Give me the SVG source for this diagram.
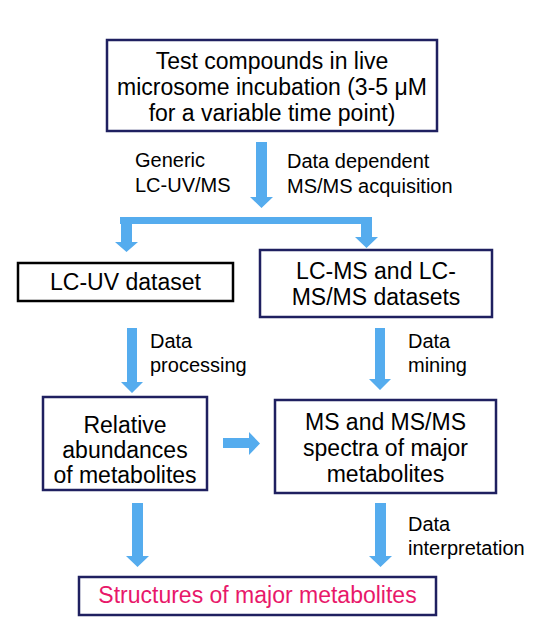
<svg xmlns="http://www.w3.org/2000/svg" width="553" height="631" viewBox="0 0 553 631">
<style>
.box{fill:#fff;stroke:#1f2060;stroke-width:2.5}
.bbox{fill:#fff;stroke:#000;stroke-width:2.5}
.t{font-family:"Liberation Sans",Arial,sans-serif;font-size:23px;fill:#000;text-anchor:middle}
.lb{font-family:"Liberation Sans",Arial,sans-serif;font-size:20px;fill:#000}
.arr{fill:#55acee}
</style>
<rect width="553" height="631" fill="#fff"/>
<g id="connectors">
<polygon class="arr" points="256,142 267,142 267,197 273,197 261.5,208 250,197 256,197"/>
<polygon class="arr" points="120,217 372,217 372,237 378,237 366.5,248 355,237 361,237 361,224 132,224 132,242 138,242 126.5,252 115,242 121,242 121,224 120,224"/>
<polygon class="arr" points="127,328 137,328 137,382 143,382 132,393 121,382 127,382"/>
<polygon class="arr" points="375,328 385,328 385,379 391,379 380,390 369,379 375,379"/>
<polygon class="arr" points="223,438 249,438 249,432 260,443.5 249,455 249,448 223,448"/>
<polygon class="arr" points="132,503 143,503 143,556 149,556 137.5,567 126,556 132,556"/>
<polygon class="arr" points="375,503 386,503 386,556 392,556 380.5,567 369,556 375,556"/>
<text class="lb" x="135" y="167">Generic</text>
<text class="lb" x="135" y="192">LC-UV/MS</text>
<text class="lb" x="287" y="168">Data dependent</text>
<text class="lb" x="287" y="193">MS/MS acquisition</text>
<text class="lb" x="150" y="348">Data</text>
<text class="lb" x="150" y="372">processing</text>
<text class="lb" x="408" y="348">Data</text>
<text class="lb" x="408" y="372">mining</text>
<text class="lb" x="408" y="531">Data</text>
<text class="lb" x="408" y="555">interpretation</text>
</g>
<g id="node-test">
<rect class="box" x="107" y="40" width="330" height="91"/>
<text class="t" x="272" y="69">Test compounds in live</text>
<text class="t" x="272" y="95">microsome incubation (3-5 μM</text>
<text class="t" x="272" y="121">for a variable time point)</text>
</g>
<g id="node-lcuv">
<rect class="bbox" x="18" y="263" width="215" height="38"/>
<text class="t" x="125.5" y="290">LC-UV dataset</text>
</g>
<g id="node-lcms">
<rect class="box" x="260" y="250" width="232" height="67"/>
<text class="t" x="376" y="279">LC-MS and LC-</text>
<text class="t" x="376" y="305">MS/MS datasets</text>
</g>
<g id="node-relative">
<rect class="box" x="43" y="397" width="164" height="93"/>
<text class="t" x="125" y="433">Relative</text>
<text class="t" x="125" y="458">abundances</text>
<text class="t" x="125" y="483">of metabolites</text>
</g>
<g id="node-spectra">
<rect class="box" x="275" y="400" width="221" height="93"/>
<text class="t" x="385.5" y="430">MS and MS/MS</text>
<text class="t" x="385.5" y="456">spectra of major</text>
<text class="t" x="385.5" y="482">metabolites</text>
</g>
<g id="node-structures">
<rect class="box" x="79" y="577" width="357" height="38"/>
<text class="t" x="257.5" y="603" style="fill:#e8186a">Structures of major metabolites</text>
</g>
</svg>
